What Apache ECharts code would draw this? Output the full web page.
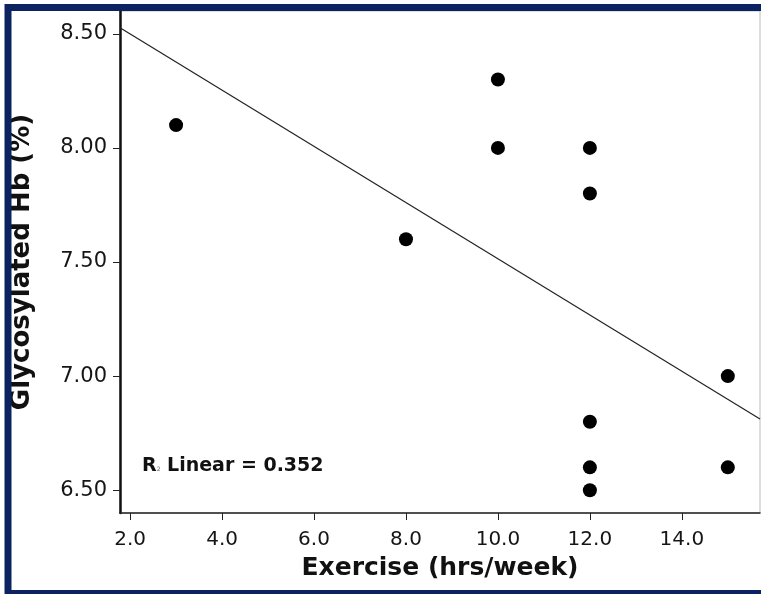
<!DOCTYPE html>
<html>
<head>
<meta charset="utf-8">
<script src="https://cdn.jsdelivr.net/npm/echarts@6/dist/echarts.min.js"></script>
<style>
html,body{margin:0;padding:0;background:#fff;}
#chart{width:761px;height:594px;}
</style>
</head>
<body>
<div id="chart"></div>
<script>
// Data
var exerciseHours = [3, 8, 10, 10, 12, 12, 12, 12, 12, 15, 15];
var glycHb       = [8.1, 7.6, 8.3, 8.0, 8.0, 7.8, 6.8, 6.6, 6.5, 7.0, 6.6];
var xTickValues = [2, 4, 6, 8, 10, 12, 14];
var yTickValues = [6.5, 7.0, 7.5, 8.0, 8.5];
var xMin = 1.78, xMax = 15.7;
var yMin = 6.4, yMax = 8.6;
var rSquaredLabel = '0.352';

// least-squares fit line (drawn across the full x range)
var n = exerciseHours.length;
var mx = exerciseHours.reduce(function(a,b){return a+b;},0)/n;
var my = glycHb.reduce(function(a,b){return a+b;},0)/n;
var sxy = 0, sxx = 0;
for (var i = 0; i < n; i++) { sxy += (exerciseHours[i]-mx)*(glycHb[i]-my); sxx += (exerciseHours[i]-mx)*(exerciseHours[i]-mx); }
var slope = sxy/sxx, intercept = my - slope*mx;
var fitLine = [[xMin, intercept + slope*xMin], [xMax, intercept + slope*xMax]];

var pts = exerciseHours.map(function(x,i){return [x, glycHb[i]];});
var FONT = 'DejaVu Sans';

var chart = echarts.init(document.getElementById('chart'), null, {renderer:'canvas'});
chart.setOption({
  animation:false,
  backgroundColor:'#ffffff',
  grid:{left:120, right:1, top:11, bottom:81, show:true, borderColor:'#bbbbbb', borderWidth:1},
  title:{
    text:'{b|R}{s|2}{b| Linear = }{b|' + rSquaredLabel + '}',
    left:137, top:452,
    textStyle:{rich:{
      b:{fontFamily:FONT, fontWeight:'bold', fontSize:19, color:'#111'},
      s:{fontFamily:FONT, fontWeight:'normal', fontSize:6, color:'#666', padding:[6,0,0,0]}
    }}
  },
  xAxis:{
    type:'value', min:xMin, max:xMax,
    name:'Exercise (hrs/week)', nameLocation:'middle', nameGap:43,
    nameTextStyle:{fontFamily:FONT, fontWeight:'bold', fontSize:25, color:'#111'},
    splitLine:{show:false},
    axisLine:{show:true, onZero:false, lineStyle:{color:'#222', width:1.5}},
    axisTick:{show:true, length:7, customValues:xTickValues, lineStyle:{color:'#222', width:1}},
    axisLabel:{customValues:xTickValues, margin:17, fontFamily:FONT, fontSize:20, color:'#151515',
      formatter:function(v){return v.toFixed(1);}}
  },
  yAxis:{
    type:'value', min:yMin, max:yMax,
    name:'Glycosylated Hb (%)', nameLocation:'middle', nameGap:85,
    nameTextStyle:{fontFamily:FONT, fontWeight:'bold', fontSize:26, color:'#111'},
    splitLine:{show:false},
    axisLine:{show:true, onZero:false, lineStyle:{color:'#111', width:2.5}},
    axisTick:{show:true, length:7, customValues:yTickValues, lineStyle:{color:'#222', width:1}},
    axisLabel:{customValues:yTickValues, margin:13, fontFamily:FONT, fontSize:21, color:'#151515',
      formatter:function(v){return v.toFixed(2);}}
  },
  series:[
    {type:'line', data:fitLine, showSymbol:false, symbol:'none', silent:true,
     lineStyle:{color:'#222', width:1.2}, z:2},
    {type:'scatter', data:pts, symbolSize:14, itemStyle:{color:'#000', opacity:1}, z:3}
  ],
  graphic:[{
    type:'rect', z:100, silent:true,
    shape:{x:8, y:7.5, width:820, height:586},
    style:{fill:null, stroke:'#0b2461', lineWidth:7}
  }]
});
</script>
</body>
</html>
